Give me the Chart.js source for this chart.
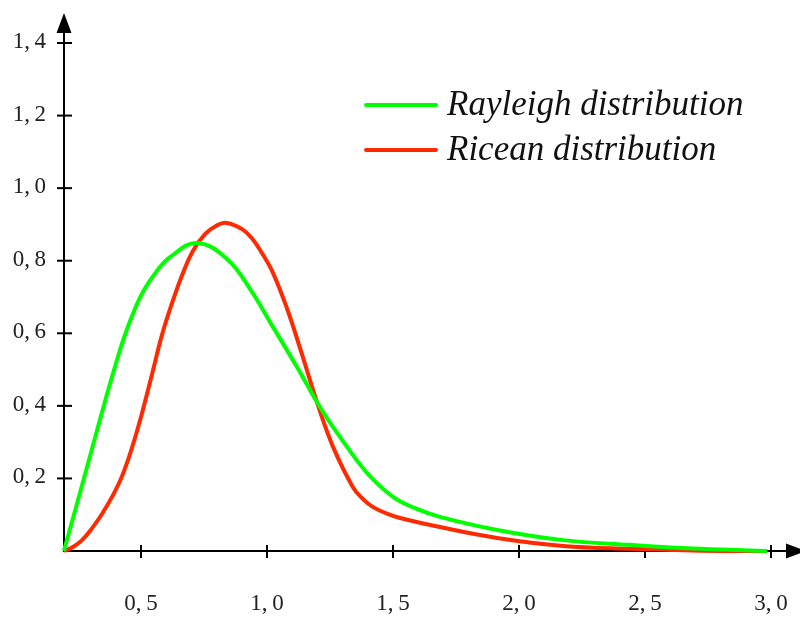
<!DOCTYPE html>
<html>
<head>
<meta charset="utf-8">
<title>Rayleigh vs Ricean</title>
<script src="https://cdn.jsdelivr.net/npm/chart.js@4.4.1/dist/chart.umd.min.js"></script>
<style>
    html, body { margin: 0; padding: 0; background: #fff; }
    #wrap { position: relative; width: 800px; height: 619px; }
</style>
</head>
<body>
<div id="wrap"><canvas id="pdfChart"></canvas></div>
<script>
// values
const rayleighX = [0.194, 0.274, 0.353, 0.393, 0.432, 0.472, 0.512, 0.560, 0.615, 0.722, 0.841, 0.933, 1.024, 1.119, 1.210, 1.290, 1.397, 1.500, 1.587, 1.686, 1.913, 2.175, 2.440, 2.720, 2.984];
const rayleighY = [0, 0.201, 0.402, 0.499, 0.587, 0.661, 0.719, 0.769, 0.810, 0.849, 0.805, 0.722, 0.617, 0.507, 0.397, 0.314, 0.215, 0.149, 0.118, 0.094, 0.058, 0.030, 0.017, 0.006, 0];
const riceanX = [0.194, 0.230, 0.266, 0.306, 0.345, 0.385, 0.425, 0.464, 0.504, 0.544, 0.583, 0.623, 0.663, 0.706, 0.754, 0.802, 0.841, 0.901, 0.940, 0.980, 1.024, 1.079, 1.131, 1.202, 1.262, 1.341, 1.381, 1.421, 1.476, 1.528, 1.686, 1.913, 2.175, 2.440, 2.720, 2.984];
const riceanY = [0, 0.011, 0.030, 0.063, 0.102, 0.149, 0.207, 0.284, 0.380, 0.488, 0.595, 0.683, 0.760, 0.827, 0.873, 0.898, 0.904, 0.887, 0.862, 0.821, 0.766, 0.669, 0.559, 0.402, 0.287, 0.176, 0.143, 0.121, 0.103, 0.091, 0.066, 0.036, 0.014, 0.006, 0.001, 0];
const xTicks = [0.5, 1.0, 1.5, 2.0, 2.5, 3.0];
const yTicks = [0.2, 0.4, 0.6, 0.8, 1.0, 1.2, 1.4];
const seriesNames = ['Rayleigh distribution', 'Ricean distribution'];

function toPoints(xs, ys) {
    return xs.map((x, i) => ({ x: x, y: ys[i] }));
}

function fmt(v) {
    // decimal comma like the original
    return v.toFixed(1).replace('.', ',\u2009');
}

// axes with arrows, tick marks and labels
const axesPlugin = {
    id: 'arrowAxes',
    beforeDatasetsDraw(chart) {
        const ctx = chart.ctx;
        const xs = chart.scales.x;
        const ys = chart.scales.y;
        const ox = xs.getPixelForValue(xs.min);
        const oy = ys.getPixelForValue(0);
        ctx.save();
        ctx.strokeStyle = '#000';
        ctx.fillStyle = '#000';
        ctx.lineWidth = 2;

        // x axis
        ctx.beginPath();
        ctx.moveTo(ox - 1, oy);
        ctx.lineTo(790, oy);
        ctx.stroke();
        ctx.beginPath();
        ctx.moveTo(786, oy - 7.5);
        ctx.lineTo(806, oy);
        ctx.lineTo(786, oy + 7.5);
        ctx.closePath();
        ctx.fill();

        // y axis
        ctx.beginPath();
        ctx.moveTo(ox, oy + 1);
        ctx.lineTo(ox, 30);
        ctx.stroke();
        ctx.beginPath();
        ctx.moveTo(ox - 7.5, 33);
        ctx.lineTo(ox, 13);
        ctx.lineTo(ox + 7.5, 33);
        ctx.closePath();
        ctx.fill();

        ctx.font = '23px "Liberation Serif", "DejaVu Serif", serif';
        ctx.fillStyle = '#222';

        xTicks.forEach(v => {
            const px = xs.getPixelForValue(v);
            ctx.beginPath();
            ctx.moveTo(px, oy - 6);
            ctx.lineTo(px, oy + 7);
            ctx.stroke();
            ctx.textAlign = 'center';
            ctx.textBaseline = 'middle';
            ctx.fillText(fmt(v), px, 604);
        });

        yTicks.forEach(v => {
            const py = ys.getPixelForValue(v);
            ctx.beginPath();
            ctx.moveTo(ox - 7, py);
            ctx.lineTo(ox + 8, py);
            ctx.stroke();
            ctx.textAlign = 'right';
            ctx.textBaseline = 'middle';
            ctx.fillText(fmt(v), 46, py - 1);
        });
        ctx.restore();
    },
    afterDraw(chart) {
        // legend inside the plot, top right
        const ctx = chart.ctx;
        const rows = [105, 150];
        ctx.save();
        chart.data.datasets.forEach((ds, i) => {
            const y = rows[i];
            ctx.strokeStyle = ds.borderColor;
            ctx.lineWidth = 4;
            ctx.lineCap = 'round';
            ctx.beginPath();
            ctx.moveTo(366, y);
            ctx.lineTo(436, y);
            ctx.stroke();
            ctx.fillStyle = '#111';
            ctx.font = 'italic 35px "Liberation Serif", "DejaVu Serif", serif';
            ctx.textAlign = 'left';
            ctx.textBaseline = 'alphabetic';
            ctx.fillText(ds.label, 447, y + 10);
        });
        ctx.restore();
    }
};

const ctx = document.getElementById('pdfChart').getContext('2d');
const pdfChart = new Chart(ctx, {
    type: 'line',
    data: {
        datasets: [{
            label: seriesNames[0],
            data: toPoints(rayleighX, rayleighY),
            borderColor: '#00ff00',
            borderWidth: 4,
            pointRadius: 0,
            tension: 0.4,
            clip: false
        }, {
            label: seriesNames[1],
            data: toPoints(riceanX, riceanY),
            borderColor: '#ff2a00',
            borderWidth: 4,
            pointRadius: 0,
            tension: 0.4,
            clip: false
        }]
    },
    options: {
        responsive: true,
        maintainAspectRatio: false,
        animation: false,
        devicePixelRatio: 1,
        layout: {
            padding: { left: 64, right: 0, top: 13, bottom: 68 }
        },
        scales: {
            x: {
                type: 'linear',
                display: false,
                min: 0.1944,
                max: 3.115
            },
            y: {
                display: false,
                min: 0,
                max: 1.4827
            }
        },
        plugins: {
            legend: { display: false },
            tooltip: { enabled: false }
        }
    },
    plugins: [axesPlugin]
});
</script>
</body>
</html>
